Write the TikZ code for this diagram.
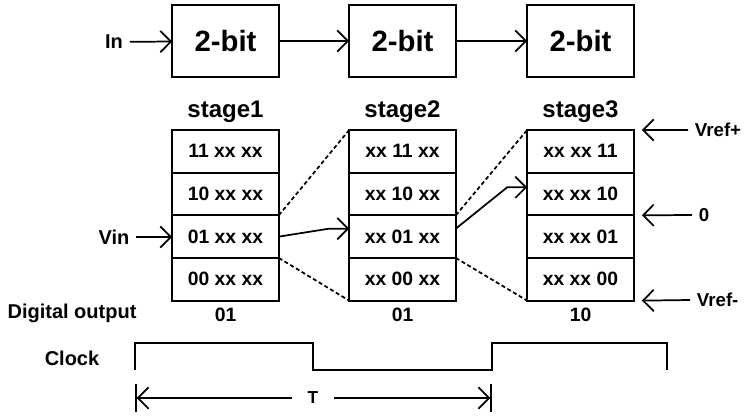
\documentclass[tikz,border=0pt]{standalone}
\usepackage{fontspec}
\setmainfont{Liberation Sans}
\usetikzlibrary{arrows.meta,positioning}
\tikzset{
  bitbox/.style={rectangle, draw, line width=1.6pt, outer sep=0pt, minimum width=80pt,
                 minimum height=54pt, font=\fontsize{22}{24}\selectfont\bfseries},
  cell/.style={rectangle, draw, line width=1.6pt, outer sep=0pt, minimum width=80pt,
               minimum height=32pt, font=\fontsize{14.5}{16}\selectfont\bfseries},
  hdr/.style={font=\fontsize{18}{20}\selectfont\bfseries},
  lbl/.style={font=\fontsize{15}{17}\selectfont\bfseries, inner sep=5pt},
  rlbl/.style={lbl, anchor=west, font=\fontsize{14}{16}\selectfont\bfseries},
  arr/.style={-{Straight Barb[length=8pt,width=16pt]}, line width=1.3pt},
  tarr/.style={-{Straight Barb[length=8pt,width=16pt] Bar[width=21pt]}, line width=1.3pt},
  dsh/.style={line width=1.3pt, dash pattern=on 3pt off 2pt},
  wave/.style={line width=1.5pt}
}
\begin{document}
\begin{tikzpicture}[x=0.75pt, y=-0.75pt]
  \useasboundingbox (0,0) rectangle (748,415);
  % pipeline of 2-bit stages
  \node[bitbox] (b1) at (225.5,41) {2-bit};
  \node[bitbox, right=52.75pt of b1] (b2) {2-bit};
  \node[bitbox, right=53.5pt of b2] (b3) {2-bit};
  \node[lbl] (in) at (114,42) {In};
  \draw[arr] (in) -- (b1); \draw[arr] (b1) -- (b2); \draw[arr] (b2) -- (b3);

  % code ranges of each stage
  \node[cell] (s1a) at (225.5,151.3) {11 xx xx};
  \node[cell, below=0pt of s1a] (s1b) {10 xx xx};
  \node[cell, below=0pt of s1b] (s1c) {01 xx xx};
  \node[cell, below=0pt of s1c] (s1d) {00 xx xx};
  \node[cell, right=52.75pt of s1a] (s2a) {xx 11 xx};
  \node[cell, below=0pt of s2a] (s2b) {xx 10 xx};
  \node[cell, below=0pt of s2b] (s2c) {xx 01 xx};
  \node[cell, below=0pt of s2c] (s2d) {xx 00 xx};
  \node[cell, right=53.5pt of s2a] (s3a) {xx xx 11};
  \node[cell, below=0pt of s3a] (s3b) {xx xx 10};
  \node[cell, below=0pt of s3b] (s3c) {xx xx 01};
  \node[cell, below=0pt of s3c] (s3d) {xx xx 00};
  \node[hdr, above=2pt of s1a] (st1) {stage1};
  \node[hdr, above=2pt of s2a] (st2) {stage2};
  \node[hdr, above=2pt of s3a] (st3) {stage3};

  % residue zoom between stages
  \draw[dsh] (s1c.north east) -- (s2a.north west);
  \draw[dsh] (s1c.south east) -- (s2d.south west);
  \draw[dsh] (s2c.north east) -- (s3a.north west);
  \draw[dsh] (s2c.south east) -- (s3d.south west);
  \node[lbl] (vin) at (114,237) {Vin};
  \draw[arr] (vin) -- (vin -| s1c.west);
  \draw[arr] (s1c.east) -- ([xshift=-15pt,yshift=6pt]s2c.west) -- ([yshift=6pt]s2c.west);
  \draw[arr] ([yshift=6pt]s2c.east) -- ([xshift=-15pt,yshift=5pt]s3b.west) -- ([yshift=5pt]s3b.west);

  % reference levels
  \node[rlbl] (vp) at (688,130) {Vref+};
  \node[rlbl] (vz) at (692,215) {0};
  \node[rlbl] (vm) at (690,300) {Vref-};
  \draw[arr] (vp.west) -- ([xshift=6pt]s3a.north east);
  \draw[arr] (vz.west) -- ([xshift=6pt]s3b.south east);
  \draw[arr] (vm.west) -- ([xshift=6pt]s3d.south east);

  % digital outputs
  \node[lbl] (dout) at (72,313) {Digital output};
  \node[lbl, font=\fontsize{14.5}{16}\selectfont\bfseries, below=0pt of s1d] (d1) {01};
  \node[lbl, font=\fontsize{14.5}{16}\selectfont\bfseries, below=0pt of s2d] (d2) {01};
  \node[lbl, font=\fontsize{14.5}{16}\selectfont\bfseries, below=0pt of s3d] (d3) {10};

  % clock and period
  \node[lbl] (clk) at (72,358) {Clock};
  \draw[wave] (135,370) -- (135,343) -- (313,343) -- (313,370) -- (492,370)
    -- (492,343) -- (667,343) -- (667,370);
  \coordinate (tl) at (135,398);
  \coordinate (tr) at (492,398);
  \node[font=\fontsize{13}{15}\selectfont\bfseries, minimum width=31pt, inner sep=0pt] (tlab) at (313,398) {T};
  \draw[tarr] (tlab) -- (tl);
  \draw[tarr] (tlab) -- (tr);
\end{tikzpicture}
\end{document}
